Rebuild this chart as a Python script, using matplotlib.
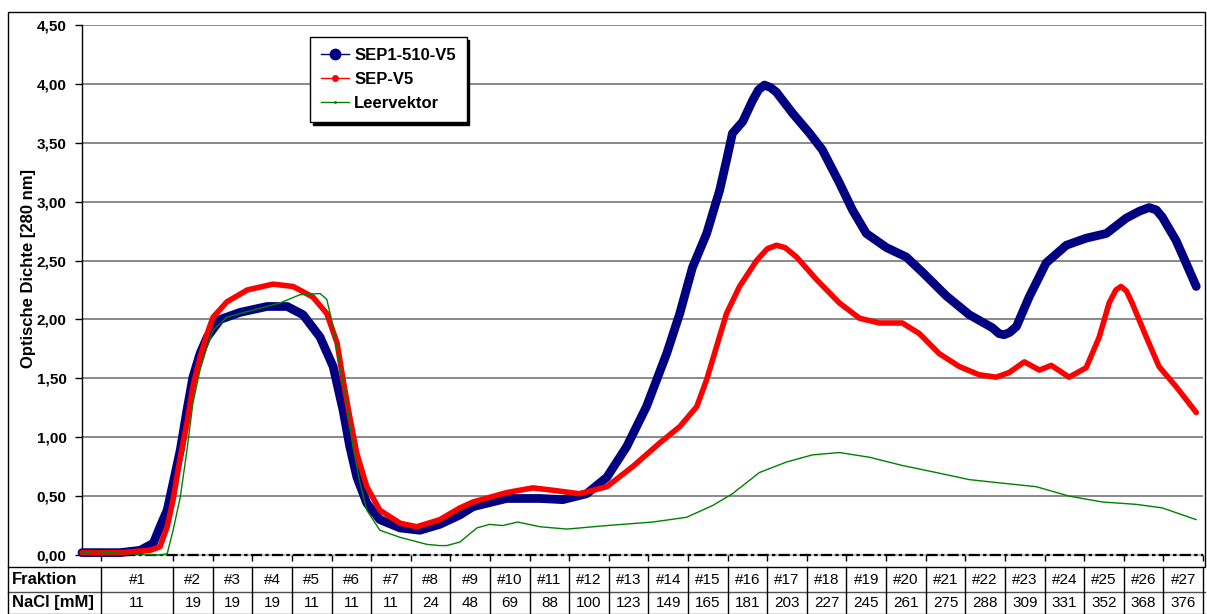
import matplotlib
matplotlib.use("Agg")
import matplotlib.pyplot as plt
import matplotlib.transforms as mtransforms
from matplotlib.lines import Line2D
from matplotlib.patches import Rectangle

plt.rcParams['font.family'] = ['Liberation Sans', 'DejaVu Sans']

# table under the chart
fractions = ['#1', '#2', '#3', '#4', '#5', '#6', '#7', '#8', '#9', '#10', '#11', '#12', '#13', '#14',
             '#15', '#16', '#17', '#18', '#19', '#20', '#21', '#22', '#23', '#24', '#25', '#26', '#27']
nacl = [11, 19, 19, 19, 11, 11, 11, 24, 48, 69, 88, 100, 123, 149, 165, 181, 203, 227, 245, 261,
        275, 288, 309, 331, 352, 368, 376]
# fraction borders on the x axis (fraction #1 is the wide one)
frac_edges = [-0.82, 1, 2, 3, 4, 5, 6, 7, 8, 9, 10, 11, 12, 13, 14, 15, 16, 17, 18, 19, 20,
              21, 22, 23, 24, 25, 26, 27]

yticks = [0.0, 0.5, 1.0, 1.5, 2.0, 2.5, 3.0, 3.5, 4.0, 4.5]
ytick_labels = ['0,00', '0,50', '1,00', '1,50', '2,00', '2,50', '3,00', '3,50', '4,00', '4,50']

# SEP1-510-V5
blue_x = [-1.30, -0.34, 0.17, 0.50, 0.67, 0.85, 1.00, 1.18, 1.35, 1.50, 1.68, 1.86, 2.19, 2.69,
          3.37, 3.88, 4.28, 4.71, 5.04, 5.29, 5.46, 5.64, 5.89, 6.22, 6.73, 7.23, 7.73, 8.24,
          8.57, 9.42, 10.26, 10.84, 11.44, 11.95, 12.45, 12.95, 13.46, 13.79, 14.11, 14.47,
          14.80, 14.97, 15.12, 15.38, 15.63, 15.78, 15.93, 16.08, 16.23, 16.64, 17.07, 17.39,
          17.82, 18.15, 18.50, 19.01, 19.51, 19.92, 20.52, 21.10, 21.68, 21.85, 21.98, 22.12,
          22.29, 22.61, 23.04, 23.55, 24.05, 24.56, 25.06, 25.40, 25.64, 25.82, 25.97, 26.32,
          26.57, 26.83]
blue_y = [0.02, 0.02, 0.04, 0.10, 0.24, 0.38, 0.61, 0.89, 1.23, 1.51, 1.71, 1.85, 2.00, 2.06,
          2.11, 2.11, 2.04, 1.85, 1.60, 1.23, 0.92, 0.66, 0.44, 0.30, 0.23, 0.21, 0.26, 0.34,
          0.41, 0.48, 0.48, 0.47, 0.52, 0.66, 0.92, 1.26, 1.71, 2.05, 2.44, 2.73,
          3.10, 3.35, 3.58, 3.68, 3.86, 3.95, 3.99, 3.97, 3.93, 3.75, 3.58, 3.44,
          3.16, 2.93, 2.73, 2.61, 2.53, 2.40, 2.20, 2.04, 1.93, 1.88, 1.87, 1.89,
          1.94, 2.19, 2.48, 2.63, 2.69, 2.73, 2.86, 2.92, 2.95, 2.93, 2.87, 2.67,
          2.48, 2.28]

# SEP-V5
red_x = [-1.30, -0.34, 0.42, 0.67, 0.85, 1.00, 1.18, 1.35, 1.50, 1.68, 1.86, 2.01, 2.36, 2.87,
         3.52, 4.03, 4.53, 4.88, 5.14, 5.29, 5.46, 5.64, 5.89, 6.22, 6.73, 7.15, 7.73, 8.24,
         8.57, 9.42, 10.08, 10.58, 11.26, 11.95, 12.60, 13.28, 13.79, 14.22, 14.47, 14.72,
         14.97, 15.30, 15.73, 16.00, 16.23, 16.45, 16.74, 17.24, 17.82, 18.33, 18.83, 19.41,
         19.84, 20.34, 20.85, 21.35, 21.78, 22.11, 22.49, 22.87, 23.17, 23.62, 24.05, 24.38,
         24.63, 24.80, 24.93, 25.07, 25.21, 25.57, 25.89, 26.32, 26.83]
red_y = [0.02, 0.02, 0.04, 0.07, 0.24, 0.47, 0.83, 1.12, 1.43, 1.68, 1.88, 2.02, 2.15, 2.25,
         2.30, 2.28, 2.19, 2.05, 1.80, 1.49, 1.17, 0.86, 0.58, 0.38, 0.27, 0.24, 0.30, 0.40,
         0.45, 0.53, 0.57, 0.55, 0.52, 0.58, 0.75, 0.95, 1.09, 1.26, 1.49, 1.77,
         2.05, 2.28, 2.50, 2.60, 2.63, 2.61, 2.53, 2.34, 2.14, 2.01, 1.97, 1.97,
         1.88, 1.71, 1.60, 1.53, 1.51, 1.55, 1.64, 1.57, 1.61, 1.51, 1.59, 1.85,
         2.14, 2.25, 2.28, 2.24, 2.14, 1.85, 1.60, 1.43, 1.21]

# Leervektor
green_x = [-1.30, -0.97, -0.59, -0.08, 0.67, 0.85, 1.00, 1.18, 1.35, 1.50, 1.68, 1.86, 2.01,
           2.36, 3.02, 3.70, 4.20, 4.71, 4.88, 5.04, 5.21, 5.39, 5.54, 5.72, 5.89, 6.22, 6.73,
           7.41, 7.73, 7.91, 8.24, 8.67, 8.99, 9.32, 9.70, 10.26, 10.94, 11.95, 13.11, 13.96,
           14.62, 15.12, 15.80, 16.49, 17.14, 17.82, 18.58, 19.41, 20.27, 21.10, 21.93, 22.79,
           23.62, 24.46, 25.31, 25.97, 26.83]
green_y = [0.02, 0.03, 0.02, 0.01, 0.00, 0.01, 0.21, 0.49, 0.89, 1.29, 1.57, 1.77, 1.91,
           2.02, 2.08, 2.14, 2.21, 2.22, 2.17, 1.94, 1.60, 1.29, 0.92, 0.61, 0.38, 0.21, 0.15,
           0.09, 0.08, 0.08, 0.11, 0.23, 0.26, 0.25, 0.28, 0.24, 0.22, 0.25, 0.28, 0.32,
           0.42, 0.52, 0.70, 0.79, 0.85, 0.87, 0.83, 0.76, 0.70, 0.64, 0.61, 0.58,
           0.50, 0.45, 0.43, 0.40, 0.30]

W, H = 1207, 614
fig = plt.figure(figsize=(W / 100, H / 100), dpi=100)
ax = fig.add_axes([82 / W, 1 - 555 / H, (1203 - 82) / W, 530 / H])

ax.set_xlim(-1.30, 27.0)
ax.set_ylim(0, 4.5)

# grid lines
for y in yticks[1:]:
    ax.axhline(y, color='#808080', lw=1.3, zorder=0)
# zero line (dash-dot on gray)
ax.axhline(0, color='#c0c0c0', lw=1.6, zorder=1, clip_on=False)
ax.axhline(0, color='black', lw=1.6, linestyle=(0, (5, 1.5, 1.5, 1.5)), zorder=1, clip_on=False)

round_style = dict(solid_joinstyle='round', solid_capstyle='round', clip_on=False)
ax.plot(blue_x, blue_y, color='#000080', lw=6.3, zorder=3, **round_style)
ax.plot(red_x, red_y, color='#ff0000', lw=4.0, zorder=4, **round_style)
ax.plot(green_x, green_y, color='#008000', lw=1, zorder=5, **round_style)

ax.set_yticks(yticks)
ax.set_yticklabels(ytick_labels, fontsize=11, fontweight='bold')
ax.set_xticks(frac_edges)
ax.set_xticklabels([])
ax.tick_params(axis='y', length=5, width=1, pad=6)
ax.tick_params(axis='x', length=4, width=1)
for s in ['top', 'right', 'bottom']:
    ax.spines[s].set_visible(False)
ax.spines['left'].set_color('black')
ax.spines['left'].set_linewidth(1)

fig.text(29 / W, 1 - 268 / H, 'Optische Dichte [280 nm]', rotation=90, fontsize=12,
         fontweight='bold', ha='center', va='center')

# legend
handles = [Line2D([], [], color='#000080', lw=1, marker='o', ms=7.5),
           Line2D([], [], color='#ff0000', lw=1, marker='o', ms=4),
           Line2D([], [], color='#008000', lw=1, marker='.', ms=2)]
leg = fig.legend(handles, ['SEP1-510-V5', 'SEP-V5', 'Leervektor'], loc='upper left',
                 bbox_to_anchor=(310 / W, 1 - 37 / H), borderaxespad=0,
                 prop={'weight': 'bold', 'size': 12},
                 frameon=True, fancybox=False, edgecolor='black', framealpha=1,
                 shadow={'facecolor': 'black', 'edgecolor': 'black', 'alpha': 1},
                 handlelength=1.7, handletextpad=0.3, labelspacing=0.55, borderpad=0.65)
leg.get_frame().set_linewidth(1)

# outer chart frame
fig.patches.append(Rectangle((8 / W, 1 - 567 / H), (1205 - 8) / W, 555 / H, transform=fig.transFigure,
                             fill=False, edgecolor='black', lw=1))

# data table under the chart
trans = mtransforms.blended_transform_factory(ax.transData, fig.transFigure)
y_top, y_mid, y_bot = 1 - 567 / H, 1 - 592 / H, 0.5 / H
for yy in [y_mid, y_bot]:
    fig.add_artist(Line2D([8 / W, 1205 / W], [yy, yy], color='#505050', lw=1, transform=fig.transFigure))
fig.add_artist(Line2D([8 / W, 8 / W], [y_bot, y_top], color='black', lw=1, transform=fig.transFigure))
for e in frac_edges:
    fig.add_artist(Line2D([e, e], [y_bot, y_top], color='black', lw=1, transform=trans, clip_on=False))

fig.text(12 / W, 1 - 580 / H, 'Fraktion', fontsize=12, fontweight='bold', va='center', ha='left')
fig.text(12 / W, 1 - 603 / H, 'NaCl [mM]', fontsize=12, fontweight='bold', va='center', ha='left')
for i in range(len(fractions)):
    xc = (frac_edges[i] + frac_edges[i + 1]) / 2
    fig.text(xc, 1 - 580 / H, fractions[i], fontsize=11, ha='center', va='center', transform=trans)
    fig.text(xc, 1 - 603 / H, str(nacl[i]), fontsize=11, ha='center', va='center', transform=trans)

fig.savefig('out.png', dpi=100)
